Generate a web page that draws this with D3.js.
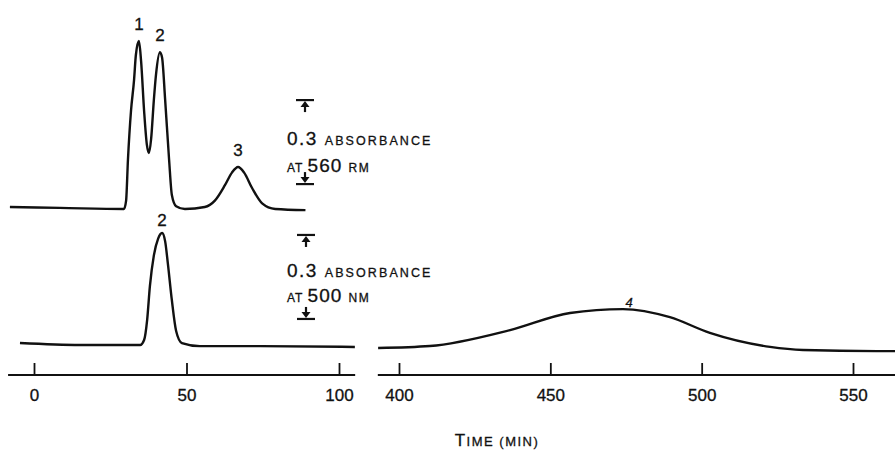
<!DOCTYPE html>
<html>
<head>
<meta charset="utf-8">
<style>
    body { margin: 0; background: #fff; }
    svg { display: block; }
    text { font-family: "Liberation Sans", Arial, sans-serif; fill: #111; stroke: #111; stroke-width: 0.3px; }
</style>
</head>
<body>
<svg width="895" height="455"></svg>
<script src="https://d3js.org/d3.v7.min.js"></script>
<script>
    // trace at 560 nm, first 100 min: [time (min), absorbance]
    var trace560 = [
        [-7.9, 0.007], [8.5, 0.004], [29.5, 0], [30.2, 0.03], [30.8, 0.175],
        [31.8, 0.35], [32.8, 0.46], [33.4, 0.55], [34.4, 0.60], [35.1, 0.53],
        [36.1, 0.35], [37.0, 0.23], [37.7, 0.20], [38.4, 0.25], [39.3, 0.39],
        [40.0, 0.48], [41.3, 0.56], [42.0, 0.54], [43.0, 0.39], [44.3, 0.175],
        [45.2, 0.05], [46.6, 0.01], [49.5, 0], [56.0, 0.007], [59.3, 0.03],
        [62.6, 0.085], [64.9, 0.13], [66.9, 0.15], [68.9, 0.13], [71.5, 0.075],
        [74.8, 0.02], [79.1, 0], [89.0, -0.004]
    ];
    // trace at 500 nm, first 100 min
    var trace500 = [
        [-4.6, 0.007], [15.1, 0], [34.8, 0], [36.1, 0.018], [37.1, 0.09],
        [38.0, 0.21], [39.3, 0.32], [40.7, 0.38], [42.0, 0.40], [43.0, 0.37],
        [43.9, 0.29], [45.2, 0.16], [46.6, 0.05], [48.5, 0.007], [54.4, -0.004],
        [74.1, -0.004], [105.2, -0.007]
    ];
    // trace at 500 nm, 400 - 560 min
    var trace500late = [
        [393.1, 0], [410.2, 0.007], [436.7, 0.064], [456.5, 0.125], [474.0, 0.139],
        [489.5, 0.11], [502.7, 0.054], [522.6, 0.004], [533.5, -0.007], [557.9, -0.011],
        [563.9, -0.011]
    ];
    var peaks560 = [["1", 34.4, 0.60], ["2", 41.3, 0.56], ["3", 66.9, 0.15]];
    var peaks500 = [["2", 42.0, 0.40]];
    var peaks500late = [["4", 476.0, 0.139]];
    var ticksEarly = [0, 50, 100];
    var ticksLate = [400, 450, 500, 550];
    var scaleBar = 0.3;

    var svg = d3.select("svg");

    var xEarly = d3.scaleLinear().domain([0, 100]).range([34, 339]);
    var xLate = d3.scaleLinear().domain([400, 550]).range([399, 853]);
    var yUp = d3.scaleLinear().domain([0, 0.3]).range([209, 125]);
    var yLow = d3.scaleLinear().domain([0, 0.3]).range([345, 261]);
    var yLate = d3.scaleLinear().domain([0, 0.3]).range([348, 264]);

    function drawTrace(data, x, y) {
        var line = d3.line()
            .x(function(d) { return x(d[0]); })
            .y(function(d) { return y(d[1]); })
            .curve(d3.curveMonotoneX);
        svg.append("path")
            .attr("d", line(data))
            .attr("fill", "none")
            .attr("stroke", "#111")
            .attr("stroke-width", 2.4)
            .attr("stroke-linejoin", "round");
    }

    function drawLabels(peaks, x, y, size, gap) {
        svg.selectAll(null)
            .data(peaks)
            .enter().append("text")
            .attr("x", function(d) { return x(d[1]); })
            .attr("y", function(d) { return y(d[2]) - gap; })
            .attr("text-anchor", "middle")
            .style("font-size", size + "px")
            .text(function(d) { return d[0]; });
    }

    drawTrace(trace560, xEarly, yUp);
    drawTrace(trace500, xEarly, yLow);
    drawTrace(trace500late, xLate, yLate);

    drawLabels(peaks560, xEarly, yUp, 17, 11);
    drawLabels(peaks500, xEarly, yLow, 17, 7);
    drawLabels(peaks500late, xLate, yLate, 13, 2);
    svg.selectAll("text").filter(function() { return this.textContent == "4"; })
        .style("font-style", "italic");

    // axes
    function drawAxis(x, ticks, from, to) {
        var g = svg.append("g").attr("transform", "translate(0,375)");
        g.call(d3.axisBottom(x).tickValues(ticks).tickSize(-12).tickSizeOuter(0).tickPadding(14)
            .tickFormat(d3.format("d")));
        g.select(".domain").remove();
        g.selectAll(".tick line").attr("stroke", "#111").attr("stroke-width", 1.8);
        g.selectAll(".tick text")
            .attr("font-family", null)
            .style("font-size", "17px")
            .attr("fill", "#111");
        g.append("line")
            .attr("x1", x(from)).attr("x2", x(to))
            .attr("stroke", "#111").attr("stroke-width", 1.8);
    }
    drawAxis(xEarly, ticksEarly, -8.5, 105.3);
    drawAxis(xLate, ticksLate, 393, 564);

    var title = svg.append("text")
        .attr("x", 497).attr("y", 446)
        .attr("text-anchor", "middle")
        .style("letter-spacing", "1.5px");
    title.append("tspan").style("font-size", "17px").text("T");
    title.append("tspan").style("font-size", "13px").text("IME (MIN)");

    // 0.3 absorbance scale bars
    function marker(cx, cy, up) {
        var s = up ? 1 : -1;
        svg.append("line")
            .attr("x1", cx - 9).attr("x2", cx + 9).attr("y1", cy).attr("y2", cy)
            .attr("stroke", "#111").attr("stroke-width", 2.2);
        svg.append("path")
            .attr("d", "M" + cx + "," + (cy + s * 1) + "L" + (cx - 4.5) + "," + (cy + s * 7) +
                "L" + (cx + 4.5) + "," + (cy + s * 7) + "Z")
            .attr("fill", "#111");
        svg.append("line")
            .attr("x1", cx).attr("x2", cx).attr("y1", cy + s * 6).attr("y2", cy + s * 12)
            .attr("stroke", "#111").attr("stroke-width", 2.2);
    }

    function scaleNote(cx, y, base, wavelength, unit, tx, line1, line2) {
        marker(cx, y(base + scaleBar), true);
        marker(cx, y(base), false);
        var t1 = svg.append("text").attr("x", tx).attr("y", line1);
        t1.append("tspan").style("font-size", "19px").style("letter-spacing", "1.5px").text("0.3 ");
        t1.append("tspan").style("font-size", "12.5px").style("letter-spacing", "2.1px").text("ABSORBANCE");
        var t2 = svg.append("text").attr("x", tx).attr("y", line2);
        t2.append("tspan").style("font-size", "12px").style("letter-spacing", "1px").text("AT ");
        t2.append("tspan").style("font-size", "19px").style("letter-spacing", "1px").text(wavelength + " ");
        t2.append("tspan").style("font-size", "12px").style("letter-spacing", "1.5px").text(unit);
    }
    scaleNote(305, yUp, 0.089, "560", "RM", 287, 145, 172);
    scaleNote(306, yLow, 0.093, "500", "NM", 287, 277, 302);
</script>
</body>
</html>
